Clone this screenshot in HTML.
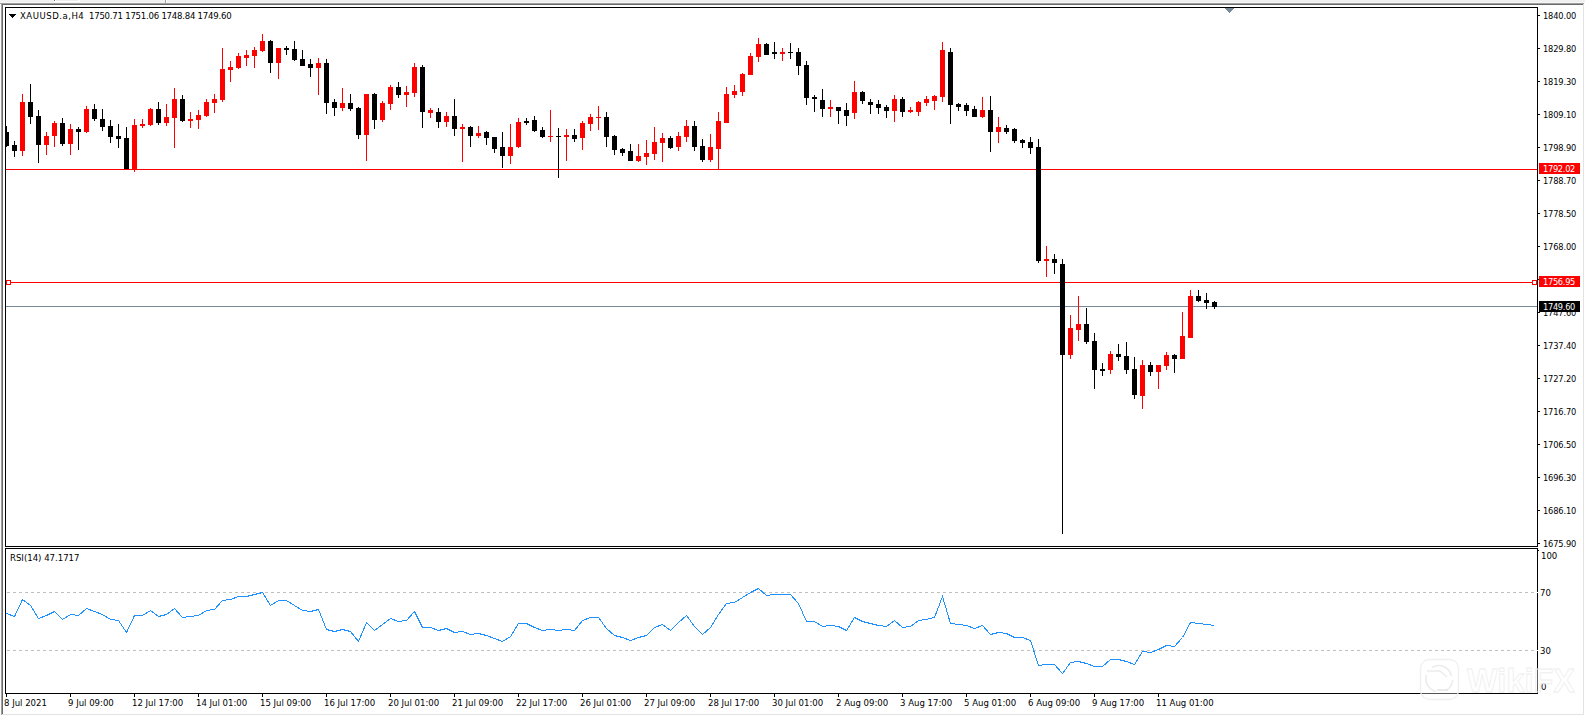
<!DOCTYPE html>
<html><head><meta charset="utf-8"><title>XAUUSD.a,H4</title>
<style>
html,body{margin:0;padding:0;background:#f0f0f0;}
#w{position:relative;width:1585px;height:715px;overflow:hidden;}
svg{position:absolute;left:0;top:0;}
.t{position:absolute;font-family:'DejaVu Sans Condensed','DejaVu Sans','Liberation Sans',sans-serif;font-stretch:condensed;line-height:12px;white-space:pre;}
</style></head>
<body><div id="w">
<svg width="1585" height="715" viewBox="0 0 1585 715" shape-rendering="crispEdges">
<rect x="0" y="0" width="1585" height="715" fill="#f0f0f0"/><rect x="0" y="2" width="1585" height="1" fill="#f5f5f5"/><rect x="0" y="4" width="1" height="711" fill="#fbfbfb"/><rect x="54" y="0" width="26" height="2" fill="#ffffff"/><rect x="56" y="0" width="22" height="1" fill="#ececec"/><rect x="54" y="0" width="1" height="1" fill="#6e6e6e"/><rect x="165" y="0" width="1" height="3" fill="#a0a0a0"/><rect x="166" y="0" width="1" height="3" fill="#ffffff"/><rect x="0" y="3" width="1584" height="1" fill="#a0a0a0"/><rect x="1" y="3" width="1" height="712" fill="#a0a0a0"/><rect x="1584" y="3" width="1" height="712" fill="#ffffff"/><rect x="2" y="4" width="1581" height="1" fill="#696969"/><rect x="2" y="4" width="1" height="711" fill="#696969"/><rect x="1583" y="4" width="1" height="711" fill="#e3e3e3"/><rect x="2" y="714" width="1582" height="1" fill="#e3e3e3"/><rect x="3" y="5" width="1580" height="709" fill="#ffffff"/>
<rect x="6" y="169" width="1531" height="1" fill="#ff0000"/><rect x="6" y="282" width="1531" height="1" fill="#ff0000"/><rect x="6" y="306" width="1531" height="1" fill="#778899"/><rect x="6" y="126" width="1" height="21" fill="#000000"/><rect x="6" y="132" width="3" height="14" fill="#000000"/><rect x="14" y="141" width="1" height="16" fill="#000000"/><rect x="12" y="145" width="5" height="6" fill="#000000"/><rect x="22" y="94" width="1" height="62" fill="#ff0000"/><rect x="20" y="102" width="5" height="49" fill="#ff0000"/><rect x="30" y="84" width="1" height="40" fill="#000000"/><rect x="28" y="102" width="5" height="15" fill="#000000"/><rect x="38" y="110" width="1" height="53" fill="#000000"/><rect x="36" y="116" width="5" height="29" fill="#000000"/><rect x="46" y="132" width="1" height="23" fill="#ff0000"/><rect x="44" y="136" width="5" height="9" fill="#ff0000"/><rect x="54" y="121" width="1" height="26" fill="#ff0000"/><rect x="52" y="123" width="5" height="13" fill="#ff0000"/><rect x="62" y="118" width="1" height="28" fill="#000000"/><rect x="60" y="123" width="5" height="21" fill="#000000"/><rect x="70" y="124" width="1" height="31" fill="#ff0000"/><rect x="68" y="129" width="5" height="15" fill="#ff0000"/><rect x="78" y="127" width="1" height="23" fill="#000000"/><rect x="76" y="129" width="5" height="3" fill="#000000"/><rect x="86" y="106" width="1" height="27" fill="#ff0000"/><rect x="84" y="109" width="5" height="23" fill="#ff0000"/><rect x="94" y="104" width="1" height="17" fill="#000000"/><rect x="92" y="109" width="5" height="10" fill="#000000"/><rect x="102" y="109" width="1" height="22" fill="#000000"/><rect x="100" y="119" width="5" height="8" fill="#000000"/><rect x="110" y="120" width="1" height="23" fill="#000000"/><rect x="108" y="126" width="5" height="11" fill="#000000"/><rect x="118" y="124" width="1" height="24" fill="#000000"/><rect x="116" y="136" width="5" height="3" fill="#000000"/><rect x="126" y="127" width="1" height="42" fill="#000000"/><rect x="124" y="138" width="5" height="31" fill="#000000"/><rect x="134" y="119" width="1" height="53" fill="#ff0000"/><rect x="132" y="125" width="5" height="44" fill="#ff0000"/><rect x="142" y="119" width="1" height="9" fill="#ff0000"/><rect x="140" y="124" width="5" height="2" fill="#ff0000"/><rect x="150" y="108" width="1" height="18" fill="#ff0000"/><rect x="148" y="109" width="5" height="16" fill="#ff0000"/><rect x="158" y="102" width="1" height="23" fill="#000000"/><rect x="156" y="109" width="5" height="14" fill="#000000"/><rect x="166" y="104" width="1" height="22" fill="#ff0000"/><rect x="164" y="117" width="5" height="6" fill="#ff0000"/><rect x="174" y="88" width="1" height="60" fill="#ff0000"/><rect x="172" y="99" width="5" height="19" fill="#ff0000"/><rect x="182" y="95" width="1" height="27" fill="#000000"/><rect x="180" y="99" width="5" height="22" fill="#000000"/><rect x="190" y="112" width="1" height="16" fill="#ff0000"/><rect x="188" y="119" width="5" height="2" fill="#ff0000"/><rect x="198" y="110" width="1" height="19" fill="#ff0000"/><rect x="196" y="115" width="5" height="5" fill="#ff0000"/><rect x="206" y="99" width="1" height="18" fill="#ff0000"/><rect x="204" y="102" width="5" height="14" fill="#ff0000"/><rect x="214" y="94" width="1" height="19" fill="#ff0000"/><rect x="212" y="99" width="5" height="4" fill="#ff0000"/><rect x="222" y="48" width="1" height="54" fill="#ff0000"/><rect x="220" y="69" width="5" height="31" fill="#ff0000"/><rect x="230" y="61" width="1" height="21" fill="#ff0000"/><rect x="228" y="67" width="5" height="3" fill="#ff0000"/><rect x="238" y="53" width="1" height="16" fill="#ff0000"/><rect x="236" y="56" width="5" height="12" fill="#ff0000"/><rect x="246" y="50" width="1" height="16" fill="#ff0000"/><rect x="244" y="55" width="5" height="3" fill="#ff0000"/><rect x="254" y="47" width="1" height="21" fill="#ff0000"/><rect x="252" y="50" width="5" height="6" fill="#ff0000"/><rect x="262" y="34" width="1" height="18" fill="#ff0000"/><rect x="260" y="41" width="5" height="10" fill="#ff0000"/><rect x="270" y="40" width="1" height="33" fill="#000000"/><rect x="268" y="41" width="5" height="22" fill="#000000"/><rect x="278" y="48" width="1" height="31" fill="#ff0000"/><rect x="276" y="48" width="5" height="15" fill="#ff0000"/><rect x="286" y="46" width="1" height="9" fill="#000000"/><rect x="284" y="48" width="5" height="2" fill="#000000"/><rect x="294" y="41" width="1" height="20" fill="#000000"/><rect x="292" y="49" width="5" height="11" fill="#000000"/><rect x="302" y="50" width="1" height="16" fill="#000000"/><rect x="300" y="59" width="5" height="7" fill="#000000"/><rect x="310" y="59" width="1" height="18" fill="#000000"/><rect x="308" y="64" width="5" height="4" fill="#000000"/><rect x="318" y="58" width="1" height="37" fill="#ff0000"/><rect x="316" y="63" width="5" height="5" fill="#ff0000"/><rect x="326" y="59" width="1" height="55" fill="#000000"/><rect x="324" y="63" width="5" height="40" fill="#000000"/><rect x="334" y="99" width="1" height="17" fill="#000000"/><rect x="332" y="102" width="5" height="6" fill="#000000"/><rect x="342" y="88" width="1" height="23" fill="#ff0000"/><rect x="340" y="103" width="5" height="5" fill="#ff0000"/><rect x="350" y="94" width="1" height="17" fill="#000000"/><rect x="348" y="103" width="5" height="6" fill="#000000"/><rect x="358" y="107" width="1" height="32" fill="#000000"/><rect x="356" y="108" width="5" height="27" fill="#000000"/><rect x="366" y="94" width="1" height="67" fill="#ff0000"/><rect x="364" y="94" width="5" height="41" fill="#ff0000"/><rect x="374" y="93" width="1" height="36" fill="#000000"/><rect x="372" y="94" width="5" height="26" fill="#000000"/><rect x="382" y="101" width="1" height="21" fill="#ff0000"/><rect x="380" y="103" width="5" height="17" fill="#ff0000"/><rect x="390" y="85" width="1" height="25" fill="#ff0000"/><rect x="388" y="87" width="5" height="17" fill="#ff0000"/><rect x="398" y="82" width="1" height="16" fill="#000000"/><rect x="396" y="87" width="5" height="8" fill="#000000"/><rect x="406" y="86" width="1" height="21" fill="#ff0000"/><rect x="404" y="92" width="5" height="3" fill="#ff0000"/><rect x="414" y="63" width="1" height="34" fill="#ff0000"/><rect x="412" y="67" width="5" height="26" fill="#ff0000"/><rect x="422" y="65" width="1" height="63" fill="#000000"/><rect x="420" y="67" width="5" height="45" fill="#000000"/><rect x="430" y="108" width="1" height="10" fill="#ff0000"/><rect x="428" y="110" width="5" height="3" fill="#ff0000"/><rect x="438" y="108" width="1" height="20" fill="#000000"/><rect x="436" y="112" width="5" height="10" fill="#000000"/><rect x="446" y="112" width="1" height="15" fill="#ff0000"/><rect x="444" y="116" width="5" height="6" fill="#ff0000"/><rect x="454" y="99" width="1" height="37" fill="#000000"/><rect x="452" y="116" width="5" height="13" fill="#000000"/><rect x="462" y="124" width="1" height="38" fill="#ff0000"/><rect x="460" y="127" width="5" height="2" fill="#ff0000"/><rect x="470" y="126" width="1" height="21" fill="#000000"/><rect x="468" y="127" width="5" height="9" fill="#000000"/><rect x="478" y="126" width="1" height="12" fill="#ff0000"/><rect x="476" y="133" width="5" height="3" fill="#ff0000"/><rect x="486" y="131" width="1" height="14" fill="#000000"/><rect x="484" y="132" width="5" height="6" fill="#000000"/><rect x="494" y="137" width="1" height="16" fill="#000000"/><rect x="492" y="137" width="5" height="12" fill="#000000"/><rect x="502" y="132" width="1" height="36" fill="#000000"/><rect x="500" y="147" width="5" height="9" fill="#000000"/><rect x="510" y="124" width="1" height="40" fill="#ff0000"/><rect x="508" y="147" width="5" height="9" fill="#ff0000"/><rect x="518" y="118" width="1" height="30" fill="#ff0000"/><rect x="516" y="122" width="5" height="25" fill="#ff0000"/><rect x="526" y="118" width="1" height="7" fill="#000000"/><rect x="524" y="121" width="5" height="2" fill="#000000"/><rect x="534" y="116" width="1" height="16" fill="#000000"/><rect x="532" y="120" width="5" height="11" fill="#000000"/><rect x="542" y="127" width="1" height="11" fill="#000000"/><rect x="540" y="130" width="5" height="7" fill="#000000"/><rect x="550" y="110" width="1" height="32" fill="#ff0000"/><rect x="548" y="136" width="5" height="1" fill="#ff0000"/><rect x="558" y="128" width="1" height="50" fill="#000000"/><rect x="556" y="136" width="5" height="1" fill="#000000"/><rect x="566" y="129" width="1" height="32" fill="#ff0000"/><rect x="564" y="135" width="5" height="2" fill="#ff0000"/><rect x="574" y="129" width="1" height="13" fill="#000000"/><rect x="572" y="135" width="5" height="4" fill="#000000"/><rect x="582" y="121" width="1" height="29" fill="#ff0000"/><rect x="580" y="123" width="5" height="15" fill="#ff0000"/><rect x="590" y="114" width="1" height="17" fill="#ff0000"/><rect x="588" y="117" width="5" height="7" fill="#ff0000"/><rect x="598" y="106" width="1" height="24" fill="#ff0000"/><rect x="596" y="117" width="5" height="1" fill="#ff0000"/><rect x="606" y="112" width="1" height="35" fill="#000000"/><rect x="604" y="117" width="5" height="20" fill="#000000"/><rect x="614" y="135" width="1" height="20" fill="#000000"/><rect x="612" y="136" width="5" height="14" fill="#000000"/><rect x="622" y="148" width="1" height="8" fill="#000000"/><rect x="620" y="149" width="5" height="4" fill="#000000"/><rect x="630" y="144" width="1" height="17" fill="#000000"/><rect x="628" y="151" width="5" height="10" fill="#000000"/><rect x="638" y="144" width="1" height="18" fill="#ff0000"/><rect x="636" y="156" width="5" height="5" fill="#ff0000"/><rect x="646" y="140" width="1" height="25" fill="#ff0000"/><rect x="644" y="153" width="5" height="4" fill="#ff0000"/><rect x="654" y="127" width="1" height="33" fill="#ff0000"/><rect x="652" y="142" width="5" height="12" fill="#ff0000"/><rect x="662" y="133" width="1" height="29" fill="#ff0000"/><rect x="660" y="138" width="5" height="5" fill="#ff0000"/><rect x="670" y="136" width="1" height="13" fill="#000000"/><rect x="668" y="138" width="5" height="10" fill="#000000"/><rect x="678" y="132" width="1" height="19" fill="#ff0000"/><rect x="676" y="136" width="5" height="11" fill="#ff0000"/><rect x="686" y="120" width="1" height="22" fill="#ff0000"/><rect x="684" y="126" width="5" height="11" fill="#ff0000"/><rect x="694" y="121" width="1" height="30" fill="#000000"/><rect x="692" y="126" width="5" height="21" fill="#000000"/><rect x="702" y="139" width="1" height="23" fill="#000000"/><rect x="700" y="146" width="5" height="14" fill="#000000"/><rect x="710" y="134" width="1" height="28" fill="#ff0000"/><rect x="708" y="147" width="5" height="13" fill="#ff0000"/><rect x="718" y="112" width="1" height="57" fill="#ff0000"/><rect x="716" y="121" width="5" height="28" fill="#ff0000"/><rect x="726" y="87" width="1" height="36" fill="#ff0000"/><rect x="724" y="94" width="5" height="29" fill="#ff0000"/><rect x="734" y="85" width="1" height="13" fill="#ff0000"/><rect x="732" y="91" width="5" height="4" fill="#ff0000"/><rect x="742" y="73" width="1" height="23" fill="#ff0000"/><rect x="740" y="74" width="5" height="18" fill="#ff0000"/><rect x="750" y="53" width="1" height="22" fill="#ff0000"/><rect x="748" y="56" width="5" height="19" fill="#ff0000"/><rect x="758" y="38" width="1" height="24" fill="#ff0000"/><rect x="756" y="44" width="5" height="13" fill="#ff0000"/><rect x="766" y="43" width="1" height="12" fill="#000000"/><rect x="764" y="44" width="5" height="11" fill="#000000"/><rect x="774" y="42" width="1" height="17" fill="#000000"/><rect x="772" y="52" width="5" height="2" fill="#000000"/><rect x="782" y="48" width="1" height="13" fill="#ff0000"/><rect x="780" y="52" width="5" height="2" fill="#ff0000"/><rect x="790" y="43" width="1" height="16" fill="#000000"/><rect x="788" y="52" width="5" height="1" fill="#000000"/><rect x="798" y="48" width="1" height="27" fill="#000000"/><rect x="796" y="52" width="5" height="14" fill="#000000"/><rect x="806" y="61" width="1" height="44" fill="#000000"/><rect x="804" y="65" width="5" height="33" fill="#000000"/><rect x="814" y="95" width="1" height="17" fill="#000000"/><rect x="812" y="97" width="5" height="2" fill="#000000"/><rect x="822" y="89" width="1" height="28" fill="#000000"/><rect x="820" y="100" width="5" height="9" fill="#000000"/><rect x="830" y="100" width="1" height="17" fill="#ff0000"/><rect x="828" y="107" width="5" height="2" fill="#ff0000"/><rect x="838" y="107" width="1" height="17" fill="#000000"/><rect x="836" y="107" width="5" height="4" fill="#000000"/><rect x="846" y="103" width="1" height="23" fill="#000000"/><rect x="844" y="110" width="5" height="6" fill="#000000"/><rect x="854" y="81" width="1" height="38" fill="#ff0000"/><rect x="852" y="92" width="5" height="21" fill="#ff0000"/><rect x="862" y="91" width="1" height="13" fill="#000000"/><rect x="860" y="92" width="5" height="9" fill="#000000"/><rect x="870" y="99" width="1" height="15" fill="#000000"/><rect x="868" y="102" width="5" height="3" fill="#000000"/><rect x="878" y="100" width="1" height="14" fill="#000000"/><rect x="876" y="104" width="5" height="4" fill="#000000"/><rect x="886" y="105" width="1" height="13" fill="#000000"/><rect x="884" y="107" width="5" height="4" fill="#000000"/><rect x="894" y="95" width="1" height="27" fill="#ff0000"/><rect x="892" y="99" width="5" height="12" fill="#ff0000"/><rect x="902" y="97" width="1" height="20" fill="#000000"/><rect x="900" y="99" width="5" height="13" fill="#000000"/><rect x="910" y="107" width="1" height="6" fill="#ff0000"/><rect x="908" y="110" width="5" height="2" fill="#ff0000"/><rect x="918" y="101" width="1" height="15" fill="#ff0000"/><rect x="916" y="102" width="5" height="10" fill="#ff0000"/><rect x="926" y="96" width="1" height="10" fill="#ff0000"/><rect x="924" y="99" width="5" height="4" fill="#ff0000"/><rect x="934" y="95" width="1" height="15" fill="#ff0000"/><rect x="932" y="96" width="5" height="5" fill="#ff0000"/><rect x="942" y="42" width="1" height="60" fill="#ff0000"/><rect x="940" y="50" width="5" height="47" fill="#ff0000"/><rect x="950" y="48" width="1" height="76" fill="#000000"/><rect x="948" y="52" width="5" height="53" fill="#000000"/><rect x="958" y="103" width="1" height="8" fill="#000000"/><rect x="956" y="104" width="5" height="3" fill="#000000"/><rect x="966" y="103" width="1" height="13" fill="#000000"/><rect x="964" y="105" width="5" height="6" fill="#000000"/><rect x="974" y="106" width="1" height="11" fill="#000000"/><rect x="972" y="109" width="5" height="8" fill="#000000"/><rect x="982" y="97" width="1" height="21" fill="#ff0000"/><rect x="980" y="110" width="5" height="7" fill="#ff0000"/><rect x="990" y="96" width="1" height="56" fill="#000000"/><rect x="988" y="110" width="5" height="22" fill="#000000"/><rect x="998" y="117" width="1" height="26" fill="#ff0000"/><rect x="996" y="127" width="5" height="5" fill="#ff0000"/><rect x="1006" y="125" width="1" height="9" fill="#000000"/><rect x="1004" y="128" width="5" height="4" fill="#000000"/><rect x="1014" y="128" width="1" height="15" fill="#000000"/><rect x="1012" y="129" width="5" height="12" fill="#000000"/><rect x="1022" y="139" width="1" height="9" fill="#000000"/><rect x="1020" y="140" width="5" height="3" fill="#000000"/><rect x="1030" y="137" width="1" height="17" fill="#000000"/><rect x="1028" y="142" width="5" height="6" fill="#000000"/><rect x="1038" y="139" width="1" height="124" fill="#000000"/><rect x="1036" y="147" width="5" height="114" fill="#000000"/><rect x="1046" y="246" width="1" height="31" fill="#ff0000"/><rect x="1044" y="259" width="5" height="2" fill="#ff0000"/><rect x="1054" y="254" width="1" height="20" fill="#000000"/><rect x="1052" y="259" width="5" height="4" fill="#000000"/><rect x="1062" y="259" width="1" height="275" fill="#000000"/><rect x="1060" y="264" width="5" height="91" fill="#000000"/><rect x="1070" y="315" width="1" height="44" fill="#ff0000"/><rect x="1068" y="328" width="5" height="27" fill="#ff0000"/><rect x="1078" y="296" width="1" height="45" fill="#ff0000"/><rect x="1076" y="324" width="5" height="6" fill="#ff0000"/><rect x="1086" y="308" width="1" height="36" fill="#000000"/><rect x="1084" y="324" width="5" height="18" fill="#000000"/><rect x="1094" y="333" width="1" height="56" fill="#000000"/><rect x="1092" y="341" width="5" height="29" fill="#000000"/><rect x="1102" y="363" width="1" height="13" fill="#000000"/><rect x="1100" y="369" width="5" height="2" fill="#000000"/><rect x="1110" y="351" width="1" height="23" fill="#ff0000"/><rect x="1108" y="354" width="5" height="16" fill="#ff0000"/><rect x="1118" y="344" width="1" height="17" fill="#000000"/><rect x="1116" y="354" width="5" height="3" fill="#000000"/><rect x="1126" y="342" width="1" height="32" fill="#000000"/><rect x="1124" y="356" width="5" height="14" fill="#000000"/><rect x="1134" y="357" width="1" height="42" fill="#000000"/><rect x="1132" y="369" width="5" height="26" fill="#000000"/><rect x="1142" y="360" width="1" height="49" fill="#ff0000"/><rect x="1140" y="365" width="5" height="31" fill="#ff0000"/><rect x="1150" y="362" width="1" height="14" fill="#000000"/><rect x="1148" y="365" width="5" height="7" fill="#000000"/><rect x="1158" y="365" width="1" height="24" fill="#ff0000"/><rect x="1156" y="365" width="5" height="7" fill="#ff0000"/><rect x="1166" y="352" width="1" height="18" fill="#ff0000"/><rect x="1164" y="355" width="5" height="11" fill="#ff0000"/><rect x="1174" y="354" width="1" height="19" fill="#000000"/><rect x="1172" y="355" width="5" height="4" fill="#000000"/><rect x="1182" y="312" width="1" height="47" fill="#ff0000"/><rect x="1180" y="336" width="5" height="23" fill="#ff0000"/><rect x="1190" y="290" width="1" height="48" fill="#ff0000"/><rect x="1188" y="296" width="5" height="42" fill="#ff0000"/><rect x="1198" y="290" width="1" height="12" fill="#000000"/><rect x="1196" y="296" width="5" height="5" fill="#000000"/><rect x="1206" y="293" width="1" height="16" fill="#000000"/><rect x="1204" y="300" width="5" height="3" fill="#000000"/><rect x="1214" y="301" width="1" height="8" fill="#000000"/><rect x="1212" y="302" width="5" height="5" fill="#000000"/><rect x="6.5" y="280.5" width="4" height="4" fill="#ffffff" stroke="#ff0000" stroke-width="1"/><rect x="1532.5" y="280.5" width="4" height="4" fill="#ffffff" stroke="#ff0000" stroke-width="1"/><rect x="1225" y="8" width="9" height="1" fill="#778899"/><rect x="1226" y="9" width="7" height="1" fill="#778899"/><rect x="1227" y="10" width="5" height="1" fill="#778899"/><rect x="1228" y="11" width="3" height="1" fill="#778899"/><rect x="1229" y="12" width="1" height="1" fill="#778899"/><rect x="5" y="7" width="1533" height="1" fill="#000"/><rect x="5" y="546" width="1533" height="1" fill="#000"/><rect x="5" y="7" width="1" height="540" fill="#000"/><rect x="1537" y="7" width="1" height="540" fill="#000"/><rect x="5" y="548" width="1533" height="1" fill="#000"/><rect x="5" y="693" width="1533" height="1" fill="#000"/><rect x="5" y="548" width="1" height="146" fill="#000"/><rect x="1537" y="548" width="1" height="146" fill="#000"/>
<line x1="7" y1="592.5" x2="1537" y2="592.5" stroke="#c0c0c0" stroke-width="1" stroke-dasharray="3 3"/><line x1="7" y1="650.5" x2="1537" y2="650.5" stroke="#c0c0c0" stroke-width="1" stroke-dasharray="3 3"/><polyline points="6.5,613.5 14.5,616.5 22.5,599.5 30.5,605.5 38.5,618.5 46.5,615.5 54.5,611.5 62.5,619.5 70.5,614.5 78.5,615.5 86.5,608.5 94.5,611.5 102.5,614.5 110.5,619.5 118.5,620.5 126.5,632.5 134.5,615.5 142.5,615.5 150.5,610.5 158.5,616.5 166.5,614.5 174.5,608.5 182.5,617.5 190.5,616.5 198.5,615.5 206.5,610.5 214.5,609.5 222.5,600.5 230.5,599.5 238.5,596.5 246.5,596.5 254.5,594.5 262.5,592.5 270.5,605.5 278.5,600.5 286.5,600.5 294.5,605.5 302.5,610.5 310.5,611.5 318.5,609.5 326.5,629.5 334.5,631.5 342.5,629.5 350.5,631.5 358.5,641.5 366.5,622.5 374.5,630.5 382.5,624.5 390.5,618.5 398.5,621.5 406.5,620.5 414.5,611.5 422.5,627.5 430.5,627.5 438.5,630.5 446.5,628.5 454.5,632.5 462.5,631.5 470.5,634.5 478.5,633.5 486.5,635.5 494.5,638.5 502.5,641.5 510.5,636.5 518.5,623.5 526.5,623.5 534.5,627.5 542.5,630.5 550.5,629.5 558.5,630.5 566.5,629.5 574.5,630.5 582.5,620.5 590.5,617.5 598.5,617.5 606.5,628.5 614.5,635.5 622.5,637.5 630.5,640.5 638.5,637.5 646.5,635.5 654.5,627.5 662.5,624.5 670.5,630.5 678.5,622.5 686.5,615.5 694.5,626.5 702.5,634.5 710.5,627.5 718.5,614.5 726.5,603.5 734.5,602.5 742.5,597.5 750.5,592.5 758.5,588.5 766.5,595.5 774.5,594.5 782.5,594.5 790.5,594.5 798.5,603.5 806.5,621.5 814.5,621.5 822.5,626.5 830.5,625.5 838.5,626.5 846.5,630.5 854.5,617.5 862.5,621.5 870.5,623.5 878.5,625.5 886.5,626.5 894.5,620.5 902.5,627.5 910.5,626.5 918.5,620.5 926.5,619.5 934.5,617.5 942.5,596.5 950.5,623.5 958.5,624.5 966.5,625.5 974.5,628.5 982.5,625.5 990.5,634.5 998.5,632.5 1006.5,633.5 1014.5,637.5 1022.5,637.5 1030.5,640.5 1038.5,665.5 1046.5,664.5 1054.5,664.5 1062.5,673.5 1070.5,662.5 1078.5,661.5 1086.5,663.5 1094.5,666.5 1102.5,666.5 1110.5,659.5 1118.5,659.5 1126.5,661.5 1134.5,664.5 1142.5,651.5 1150.5,652.5 1158.5,649.5 1166.5,645.5 1174.5,646.5 1182.5,637.5 1190.5,622.5 1198.5,623.5 1206.5,624.5 1214.5,625.5" fill="none" stroke="#1e90ff" stroke-width="1" shape-rendering="crispEdges"/>
<rect x="1538" y="15" width="2" height="1" fill="#000"/><rect x="1538" y="48" width="2" height="1" fill="#000"/><rect x="1538" y="81" width="2" height="1" fill="#000"/><rect x="1538" y="114" width="2" height="1" fill="#000"/><rect x="1538" y="147" width="2" height="1" fill="#000"/><rect x="1538" y="180" width="2" height="1" fill="#000"/><rect x="1538" y="213" width="2" height="1" fill="#000"/><rect x="1538" y="246" width="2" height="1" fill="#000"/><rect x="1538" y="279" width="2" height="1" fill="#000"/><rect x="1538" y="312" width="2" height="1" fill="#000"/><rect x="1538" y="345" width="2" height="1" fill="#000"/><rect x="1538" y="378" width="2" height="1" fill="#000"/><rect x="1538" y="411" width="2" height="1" fill="#000"/><rect x="1538" y="444" width="2" height="1" fill="#000"/><rect x="1538" y="477" width="2" height="1" fill="#000"/><rect x="1538" y="510" width="2" height="1" fill="#000"/><rect x="1538" y="543" width="2" height="1" fill="#000"/><rect x="1538" y="550" width="1" height="1" fill="#000"/><rect x="1537" y="592" width="1" height="1" fill="#fff"/><rect x="1537" y="650" width="1" height="1" fill="#fff"/><rect x="6" y="694" width="1" height="3" fill="#000"/><rect x="70" y="694" width="1" height="3" fill="#000"/><rect x="134" y="694" width="1" height="3" fill="#000"/><rect x="198" y="694" width="1" height="3" fill="#000"/><rect x="262" y="694" width="1" height="3" fill="#000"/><rect x="326" y="694" width="1" height="3" fill="#000"/><rect x="390" y="694" width="1" height="3" fill="#000"/><rect x="454" y="694" width="1" height="3" fill="#000"/><rect x="518" y="694" width="1" height="3" fill="#000"/><rect x="582" y="694" width="1" height="3" fill="#000"/><rect x="646" y="694" width="1" height="3" fill="#000"/><rect x="710" y="694" width="1" height="3" fill="#000"/><rect x="774" y="694" width="1" height="3" fill="#000"/><rect x="838" y="694" width="1" height="3" fill="#000"/><rect x="902" y="694" width="1" height="3" fill="#000"/><rect x="966" y="694" width="1" height="3" fill="#000"/><rect x="1030" y="694" width="1" height="3" fill="#000"/><rect x="1094" y="694" width="1" height="3" fill="#000"/><rect x="1158" y="694" width="1" height="3" fill="#000"/>
</svg>
<div class="t" style="left:20px;top:10px;font-size:9.5px;color:#000;letter-spacing:0.5px">XAUUSD.a,H4</div><div class="t" style="left:89px;top:10px;font-size:9.5px;color:#000;letter-spacing:-0.23px">1750.71 1751.06 1748.84 1749.60</div><div class="t" style="left:10px;top:552px;font-size:9.5px;color:#000;">RSI(14) 47.1717</div><div class="t" style="left:1543px;top:10px;font-size:9.2px;color:#000;letter-spacing:-0.15px">1840.00</div><div class="t" style="left:1543px;top:43px;font-size:9.2px;color:#000;letter-spacing:-0.15px">1829.80</div><div class="t" style="left:1543px;top:76px;font-size:9.2px;color:#000;letter-spacing:-0.15px">1819.30</div><div class="t" style="left:1543px;top:109px;font-size:9.2px;color:#000;letter-spacing:-0.15px">1809.10</div><div class="t" style="left:1543px;top:142px;font-size:9.2px;color:#000;letter-spacing:-0.15px">1798.90</div><div class="t" style="left:1543px;top:175px;font-size:9.2px;color:#000;letter-spacing:-0.15px">1788.70</div><div class="t" style="left:1543px;top:208px;font-size:9.2px;color:#000;letter-spacing:-0.15px">1778.50</div><div class="t" style="left:1543px;top:241px;font-size:9.2px;color:#000;letter-spacing:-0.15px">1768.00</div><div class="t" style="left:1543px;top:274px;font-size:9.2px;color:#000;letter-spacing:-0.15px">1757.80</div><div class="t" style="left:1543px;top:307px;font-size:9.2px;color:#000;letter-spacing:-0.15px">1747.60</div><div class="t" style="left:1543px;top:340px;font-size:9.2px;color:#000;letter-spacing:-0.15px">1737.40</div><div class="t" style="left:1543px;top:373px;font-size:9.2px;color:#000;letter-spacing:-0.15px">1727.20</div><div class="t" style="left:1543px;top:406px;font-size:9.2px;color:#000;letter-spacing:-0.15px">1716.70</div><div class="t" style="left:1543px;top:439px;font-size:9.2px;color:#000;letter-spacing:-0.15px">1706.50</div><div class="t" style="left:1543px;top:472px;font-size:9.2px;color:#000;letter-spacing:-0.15px">1696.30</div><div class="t" style="left:1543px;top:505px;font-size:9.2px;color:#000;letter-spacing:-0.15px">1686.10</div><div class="t" style="left:1543px;top:538px;font-size:9.2px;color:#000;letter-spacing:-0.15px">1675.90</div><div class="t" style="left:1541px;top:550px;font-size:9.5px;color:#000;">100</div><div class="t" style="left:1540px;top:587px;font-size:9.5px;color:#000;">70</div><div class="t" style="left:1540px;top:645px;font-size:9.5px;color:#000;">30</div><div class="t" style="left:1541px;top:681px;font-size:9.5px;color:#000;">0</div><div class="t" style="left:4px;top:697px;font-size:9.5px;color:#000;">8 Jul 2021</div><div class="t" style="left:68px;top:697px;font-size:9.5px;color:#000;">9 Jul 09:00</div><div class="t" style="left:132px;top:697px;font-size:9.5px;color:#000;">12 Jul 17:00</div><div class="t" style="left:196px;top:697px;font-size:9.5px;color:#000;">14 Jul 01:00</div><div class="t" style="left:260px;top:697px;font-size:9.5px;color:#000;">15 Jul 09:00</div><div class="t" style="left:324px;top:697px;font-size:9.5px;color:#000;">16 Jul 17:00</div><div class="t" style="left:388px;top:697px;font-size:9.5px;color:#000;">20 Jul 01:00</div><div class="t" style="left:452px;top:697px;font-size:9.5px;color:#000;">21 Jul 09:00</div><div class="t" style="left:516px;top:697px;font-size:9.5px;color:#000;">22 Jul 17:00</div><div class="t" style="left:580px;top:697px;font-size:9.5px;color:#000;">26 Jul 01:00</div><div class="t" style="left:644px;top:697px;font-size:9.5px;color:#000;">27 Jul 09:00</div><div class="t" style="left:708px;top:697px;font-size:9.5px;color:#000;">28 Jul 17:00</div><div class="t" style="left:772px;top:697px;font-size:9.5px;color:#000;">30 Jul 01:00</div><div class="t" style="left:836px;top:697px;font-size:9.5px;color:#000;">2 Aug 09:00</div><div class="t" style="left:900px;top:697px;font-size:9.5px;color:#000;">3 Aug 17:00</div><div class="t" style="left:964px;top:697px;font-size:9.5px;color:#000;">5 Aug 01:00</div><div class="t" style="left:1028px;top:697px;font-size:9.5px;color:#000;">6 Aug 09:00</div><div class="t" style="left:1092px;top:697px;font-size:9.5px;color:#000;">9 Aug 17:00</div><div class="t" style="left:1156px;top:697px;font-size:9.5px;color:#000;">11 Aug 01:00</div>
<svg width="1585" height="715" viewBox="0 0 1585 715" shape-rendering="crispEdges"><rect x="1539" y="163" width="41" height="11" fill="#ff0000"/><rect x="1539" y="276" width="41" height="11" fill="#ff0000"/><rect x="1539" y="301" width="41" height="11" fill="#000000"/></svg>
<div class="t" style="left:1543px;top:163px;font-size:9.2px;color:#ffffff;letter-spacing:-0.3px">1792.02</div><div class="t" style="left:1543px;top:276px;font-size:9.2px;color:#ffffff;letter-spacing:-0.3px">1756.95</div><div class="t" style="left:1543px;top:301px;font-size:9.2px;color:#ffffff;letter-spacing:-0.3px">1749.60</div>
<svg width="1585" height="20" viewBox="0 0 1585 20" shape-rendering="crispEdges"><rect x="9" y="14" width="7" height="1" fill="#000"/><rect x="10" y="15" width="5" height="1" fill="#000"/><rect x="11" y="16" width="3" height="1" fill="#000"/><rect x="12" y="17" width="1" height="1" fill="#000"/></svg>
<svg width="1585" height="715" viewBox="0 0 1585 715" shape-rendering="geometricPrecision"><rect x="1420.5" y="659.5" width="38" height="40" rx="9" fill="#ffffff" fill-opacity="0.33" stroke="#f0f0f0" stroke-width="1.3"/><path d="M1432 667.5 A13 13 0 0 1 1451.5 676" fill="none" stroke="#ececec" stroke-width="1.6"/><path d="M1452.5 680 A13 13 0 0 1 1446 690.5" fill="none" stroke="#ececec" stroke-width="1.6"/><path d="M1436 691.5 A13 13 0 0 1 1426.5 675" fill="none" stroke="#ececec" stroke-width="1.6"/><path d="M1427 671 L1440 671 L1447 677" fill="none" stroke="#ececec" stroke-width="1.6"/><path d="M1437 690 L1448 690" fill="none" stroke="#e6e6e6" stroke-width="1.6"/><text x="1467" y="692" font-family="Liberation Sans, sans-serif" font-weight="bold" font-size="34" fill="#ffffff" fill-opacity="0.4" stroke="#eeeeee" stroke-width="0.8" textLength="108" lengthAdjust="spacingAndGlyphs">WikiFX</text></svg>
</div></body></html>
